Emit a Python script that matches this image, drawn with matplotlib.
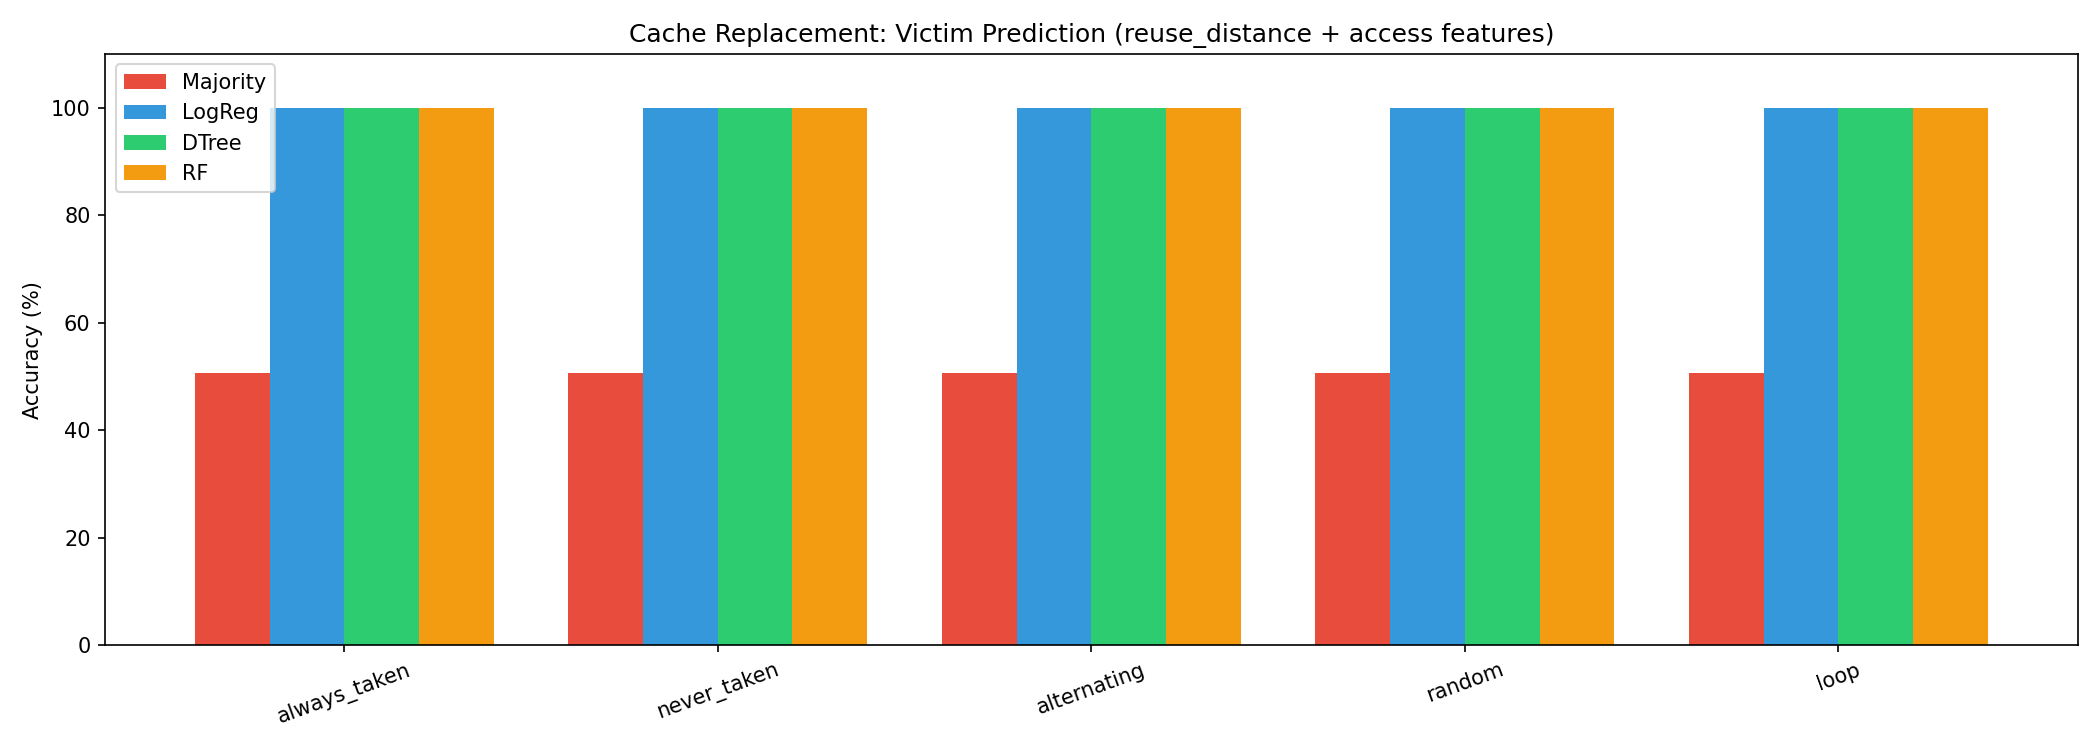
import numpy as np
import matplotlib
matplotlib.use("Agg")
import matplotlib.pyplot as plt

patterns = ["always_taken", "never_taken", "alternating", "random", "loop"]
models = ["Majority", "LogReg", "DTree", "RF"]
majority = [50.6, 50.6, 50.6, 50.6, 50.6]
logreg = [100.0, 100.0, 100.0, 100.0, 100.0]
dtree = [100.0, 100.0, 100.0, 100.0, 100.0]
rf = [100.0, 100.0, 100.0, 100.0, 100.0]
colors = ["#e74c3c", "#3498db", "#2ecc71", "#f39c12"]

fig, ax = plt.subplots(figsize=(14, 5), dpi=150)
x = np.arange(len(patterns))
w = 0.2
for i, (name, vals) in enumerate(zip(models, [majority, logreg, dtree, rf])):
    ax.bar(x + (i - 1.5) * w, vals, w, label=name, color=colors[i])

ax.set_xticks(x)
ax.set_xticklabels(patterns, rotation=20)
ax.set_ylabel("Accuracy (%)")
ax.set_ylim(0, 110)
ax.set_title("Cache Replacement: Victim Prediction (reuse_distance + access features)")
ax.legend(loc="upper left")

plt.tight_layout()
plt.savefig("out.png")
